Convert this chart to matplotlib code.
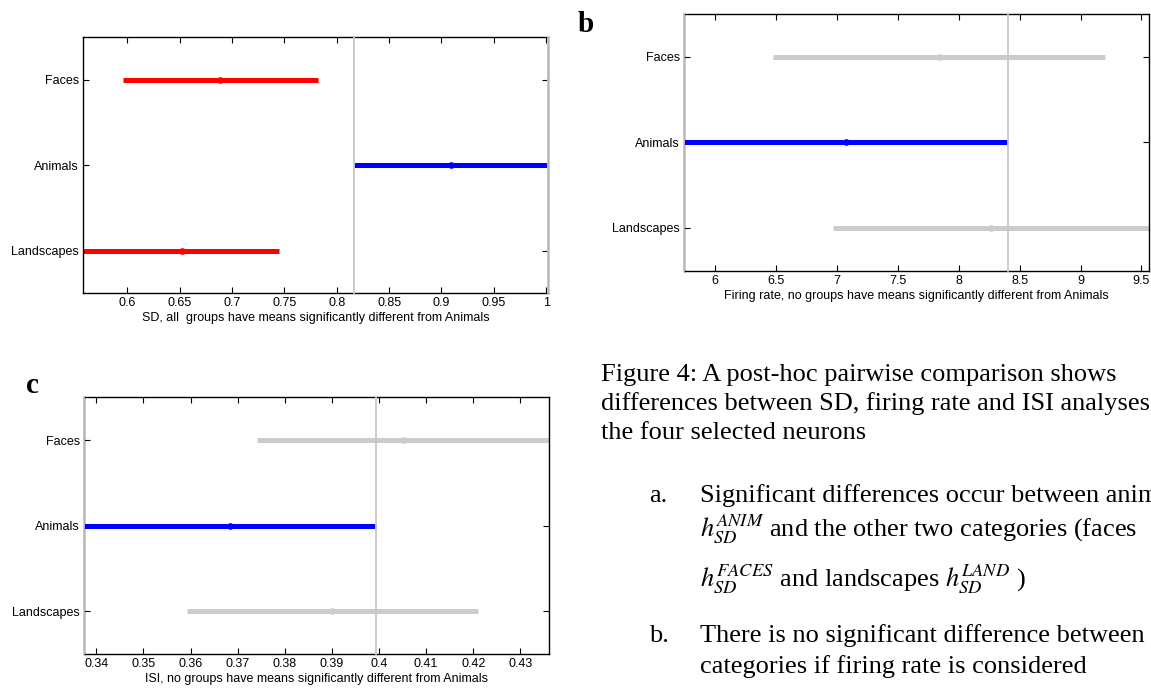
import matplotlib
matplotlib.use('Agg')
import matplotlib.pyplot as plt

plt.rcParams['font.family'] = 'Liberation Sans'
plt.rcParams['mathtext.fontset'] = 'stix'

# groups, top to bottom
groups = ['Faces', 'Animals', 'Landscapes']
group_pos = [3, 2, 1]

# SD: means and comparison intervals
sd_mean = [0.689, 0.909, 0.652]
sd_lo = [0.596, 0.816, 0.558]
sd_hi = [0.782, 1.002, 0.745]
sd_signif = [True, False, True]
sd_ticks = [0.6, 0.65, 0.7, 0.75, 0.8, 0.85, 0.9, 0.95, 1.0]
sd_ticklabels = ['0.6', '0.65', '0.7', '0.75', '0.8', '0.85', '0.9', '0.95', '1']

# firing rate
fr_mean = [7.840, 7.074, 8.263]
fr_lo = [6.478, 5.743, 6.966]
fr_hi = [9.204, 8.405, 9.565]
fr_signif = [False, False, False]
fr_ticks = [6, 6.5, 7, 7.5, 8, 8.5, 9, 9.5]
fr_ticklabels = ['6', '6.5', '7', '7.5', '8', '8.5', '9', '9.5']

# ISI
isi_mean = [0.4051, 0.3684, 0.3900]
isi_lo = [0.3742, 0.3374, 0.3592]
isi_hi = [0.4360, 0.3994, 0.4209]
isi_signif = [False, False, False]
isi_ticks = [0.34, 0.35, 0.36, 0.37, 0.38, 0.39, 0.40, 0.41, 0.42, 0.43]
isi_ticklabels = ['0.34', '0.35', '0.36', '0.37', '0.38', '0.39', '0.4',
                  '0.41', '0.42', '0.43']

selected = 1  # Animals


def panel(ax, mean, lo, hi, signif, ticks, ticklabels, xlabel):
    gray = '#cccccc'
    for i, y in enumerate(group_pos):
        if i == selected:
            c = '#0000ff'
        elif signif[i]:
            c = '#ff0000'
        else:
            c = gray
        ax.plot([lo[i], hi[i]], [y, y], color=c, lw=3.6,
                solid_capstyle='butt', zorder=2)
        ax.plot(mean[i], y, 'o', color=c, mec=c, ms=3.8, zorder=2)
    # reference lines at the selected group's interval
    for xv in (lo[selected], hi[selected]):
        ax.axvline(xv, color='#c8c8c8', lw=1.3, zorder=3, clip_on=False)
    ax.set_xlim(min(lo), max(hi))
    ax.set_ylim(0.5, 3.5)
    ax.set_yticks(group_pos, groups)
    ax.set_xticks(ticks, ticklabels)
    ax.tick_params(direction='in', top=True, right=True, length=4,
                   width=0.8, labelsize=9, pad=3)
    for s in ax.spines.values():
        s.set_linewidth(1.0)
    ax.set_xlabel(xlabel, fontsize=9, labelpad=2)


W, H = 1151, 688
fig = plt.figure(figsize=(W / 100, H / 100), dpi=100)

ax_a = fig.add_axes([83.3 / W, 1 - 293.3 / H, 465 / W, 256 / H])
panel(ax_a, sd_mean, sd_lo, sd_hi, sd_signif, sd_ticks, sd_ticklabels,
      'SD, all  groups have means significantly different from Animals')

ax_b = fig.add_axes([684 / W, 1 - 270.7 / H, 465.3 / W, 256.7 / H])
panel(ax_b, fr_mean, fr_lo, fr_hi, fr_signif, fr_ticks, fr_ticklabels,
      'Firing rate, no groups have means significantly different from Animals')

ax_c = fig.add_axes([84 / W, 1 - 654.3 / H, 464.7 / W, 257 / H])
panel(ax_c, isi_mean, isi_lo, isi_hi, isi_signif, isi_ticks, isi_ticklabels,
      'ISI, no groups have means significantly different from Animals')

# panel letters
serif = 'Liberation Serif'
fig.text(578 / W, 1 - 32 / H, 'b', fontsize=21, fontweight='bold',
         family=serif, va='baseline')
fig.text(26 / W, 1 - 393 / H, 'c', fontsize=21, fontweight='bold',
         family=serif, va='baseline')

# caption (runs off the right edge, as on the page)
caption = [
    (601, 381, 'Figure 4: A post-hoc pairwise comparison shows'),
    (601, 410, 'differences between SD, firing rate and ISI analyses'),
    (601, 439, 'the four selected neurons'),
    (649, 502, 'a.'),
    (700, 502, 'Significant differences occur between animals'),
    (700, 537, r'$h_{SD}^{ANIM}$ and the other two categories (faces'),
    (700, 587, r'$h_{SD}^{FACES}$ and landscapes $h_{SD}^{LAND}$ )'),
    (649, 642, 'b.'),
    (700, 642, 'There is no significant difference between'),
    (700, 673, 'categories if firing rate is considered'),
]
for x, y, t in caption:
    fig.text(x / W, 1 - y / H, t, fontsize=19, family=serif, va='baseline')

fig.savefig('out.png', dpi=100)
